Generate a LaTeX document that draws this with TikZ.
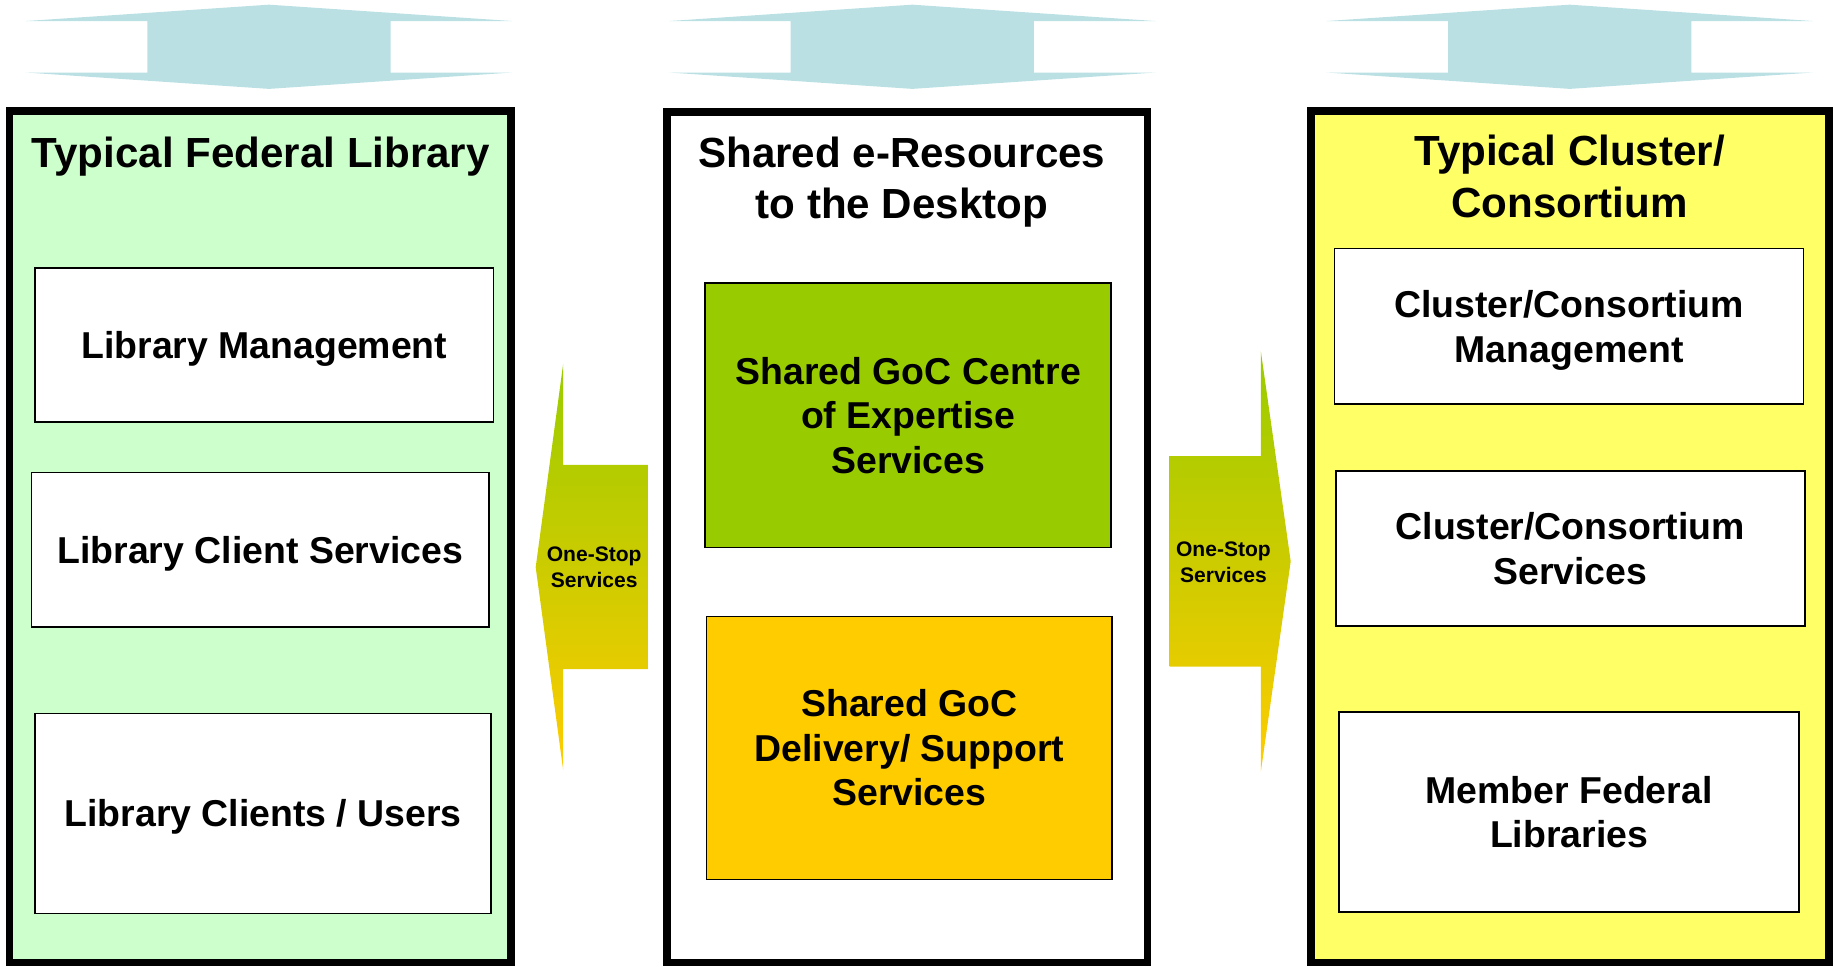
\documentclass[tikz,border=0pt]{standalone}
\usepackage{fontspec}
\setmainfont{Liberation Sans}
\definecolor{arrowblue}{RGB}{187,224,227}
\definecolor{libgreen}{RGB}{204,255,204}
\definecolor{clyellow}{RGB}{255,255,102}
\definecolor{coegreen}{RGB}{153,204,0}
\definecolor{delorange}{RGB}{255,204,0}
\begin{document}
\begin{tikzpicture}[x=1pt,y=-1pt,
  outerbox/.style={draw=black, line width=6.5pt, inner sep=0pt},
  innerbox/.style={draw=black, line width=1.5pt, fill=white, inner sep=0pt,
    font=\fontsize{32}{38}\selectfont\bfseries, align=center},
  titletext/.style={font=\fontsize{36}{44}\selectfont\bfseries, align=center,
    inner sep=0pt, anchor=north},
  onestop/.style={font=\fontsize{18}{22}\selectfont\bfseries, align=center, inner sep=0pt},
  grad/.style={top color=coegreen, bottom color=delorange}
]
\useasboundingbox (0,0) rectangle (1568,826);
\clip (0,0) rectangle (1568,826);

% top double arrows
\foreach \c in {230,780,1342}{
  \fill[arrowblue] (\c,4) -- (\c+208,18) -- (\c+104,18) -- (\c+104,62) -- (\c+208,62)
    -- (\c,76) -- (\c-208,62) -- (\c-104,62) -- (\c-104,18) -- (\c-208,18) -- cycle;
}

% outer columns
\node[outerbox, fill=libgreen, minimum width=429pt, minimum height=728pt] (fedlib) at (222.5,459) {};
\node[outerbox, fill=white, minimum width=411pt, minimum height=727pt] (shared) at (775.5,459.5) {};
\node[outerbox, fill=clyellow, minimum width=442.5pt, minimum height=728pt] (cluster) at (1342.25,459) {};

% titles
\node[titletext] (t1) at (223,116.5) {Typical Federal Library};
\node[titletext] (t2) at (771,116.5) {Shared e-Resources\\to the Desktop};
\node[titletext] (t3) at (1342,115.5) {Typical Cluster/\\Consortium};

% left column boxes
\node[innerbox, minimum width=392pt, minimum height=132pt, text height=23pt, text depth=0pt] (lm) at (226,295) {Library Management};
\node[innerbox, minimum width=391pt, minimum height=132pt, text height=23pt, text depth=0pt] (lcs) at (222.5,470) {Library Client Services};
\node[innerbox, minimum width=390pt, minimum height=171pt, text height=23pt, text depth=0pt] (lcu) at (225,695.5) {Library Clients / Users};

% middle column boxes
\node[innerbox, fill=coegreen, minimum width=347pt, minimum height=226pt] (coe) at (776.5,355) {Shared GoC Centre\\of Expertise\\Services};
\node[innerbox, fill=delorange, minimum width=347pt, minimum height=225pt] (del) at (777.5,639.5) {Shared GoC\\Delivery/ Support\\Services};

% right column boxes
\node[innerbox, minimum width=401pt, minimum height=133pt] (ccm) at (1341.5,279) {Cluster/Consortium\\\smash{Management}};
\node[innerbox, minimum width=401pt, minimum height=132pt] (ccs) at (1342.5,469) {Cluster/Consortium\\Services};
\node[innerbox, minimum width=393pt, minimum height=171pt] (mfl) at (1341.5,694.5) {Member Federal\\Libraries};

% one-stop arrows
\shade[grad] (481.5,311) -- (481.5,397.5) -- (554,397.5) -- (554,572) -- (481.5,572)
  -- (481.5,658.5) -- (458,485) -- cycle;
\node[onestop] (os1) at (508,485) {One-Stop\\Services};
\shade[grad] (1000,390) -- (1078,390) -- (1078,300.5) -- (1103.5,480) -- (1078,659.5)
  -- (1078,570) -- (1000,570) -- cycle;
\node[onestop] (os2) at (1046,481) {One-Stop\\Services};
\end{tikzpicture}
\end{document}
